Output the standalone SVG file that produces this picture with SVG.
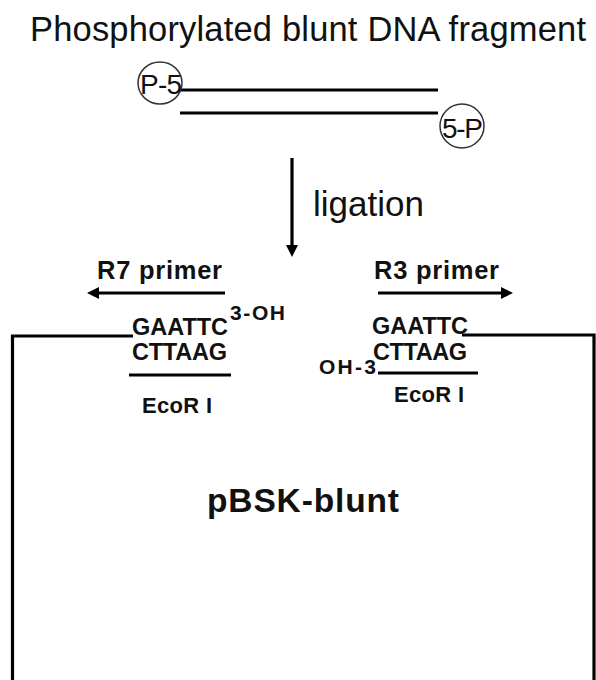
<svg xmlns="http://www.w3.org/2000/svg" width="596" height="680" viewBox="0 0 596 680">
<style>
.t{font-family:"Liberation Sans",Arial,sans-serif;fill:#111}
.b{font-weight:bold}
.ln{stroke:#000;stroke-width:3.2;fill:none}
.cir{stroke:#333;stroke-width:1.5;fill:none}
</style>
<defs>
<marker id="ah" viewBox="0 0 12 12" refX="6" refY="6" markerWidth="12" markerHeight="12" markerUnits="userSpaceOnUse" orient="auto">
<path d="M0,0 L12,6 L0,12 z" fill="#000"/>
</marker>
</defs>
<rect width="596" height="680" fill="#fff"/>
<g id="title">
<text class="t" x="30" y="41" font-size="34.5" textLength="556">Phosphorylated blunt DNA fragment</text>
</g>
<g id="fragment">
<line class="ln" x1="181" y1="90" x2="438" y2="90"/>
<line class="ln" x1="180" y1="113" x2="438" y2="113"/>
<ellipse class="cir" cx="160" cy="83" rx="22" ry="21"/>
<text class="t" x="140" y="94" font-size="28" textLength="42">P-5</text>
<ellipse class="cir" cx="462" cy="126" rx="22" ry="22"/>
<text class="t" x="442" y="138" font-size="28" textLength="41">5-P</text>
</g>
<g id="connectors">
<line class="ln" x1="292" y1="158" x2="292" y2="251" marker-end="url(#ah)"/>
<line class="ln" x1="225" y1="293" x2="93" y2="293" marker-end="url(#ah)"/>
<line class="ln" x1="378" y1="293" x2="507" y2="293" marker-end="url(#ah)"/>
</g>
<g id="ligation-label">
<text class="t" x="313" y="216" font-size="35" textLength="111">ligation</text>
</g>
<g id="R7-primer">
<text class="t b" x="97" y="279" font-size="25.5" textLength="125">R7 primer</text>
</g>
<g id="R3-primer">
<text class="t b" x="374" y="279" font-size="25.5" textLength="125">R3 primer</text>
</g>
<g id="left-site">
<text class="t b" x="132" y="335" font-size="23.5" textLength="96">GAATTC</text>
<text class="t b" x="230" y="320" font-size="21" textLength="55">3-OH</text>
<text class="t b" x="132" y="360" font-size="23.5" textLength="95">CTTAAG</text>
<line class="ln" x1="129" y1="375" x2="231" y2="375"/>
<text class="t b" x="142" y="413" font-size="22" textLength="70">EcoR I</text>
</g>
<g id="right-site">
<text class="t b" x="372" y="334" font-size="23.5" textLength="96">GAATTC</text>
<text class="t b" x="373" y="360" font-size="23.5" textLength="94">CTTAAG</text>
<text class="t b" x="319" y="374" font-size="21" textLength="57">OH-3</text>
<line class="ln" x1="378" y1="373" x2="478" y2="373"/>
<text class="t b" x="394" y="402" font-size="22" textLength="70">EcoR I</text>
</g>
<g id="vector">
<path class="ln" d="M133,336 H12.5 V680"/>
<path class="ln" d="M462,335 H594 V680"/>
<text class="t b" x="207" y="512" font-size="33.5" textLength="192">pBSK-blunt</text>
</g>
</svg>
